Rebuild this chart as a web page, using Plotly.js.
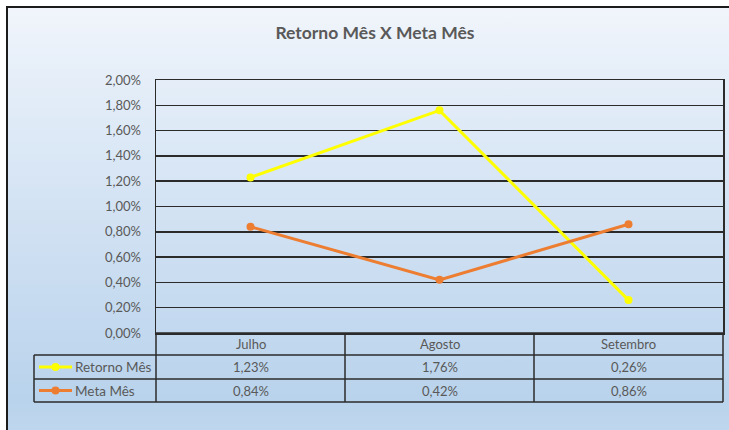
<!DOCTYPE html>
<html>
<head>
<meta charset="utf-8">
<script src="https://cdn.plot.ly/plotly-3.0.1.min.js"></script>
<style>
  html, body { margin: 0; padding: 0; background: #ffffff; }
  #wrap { position: relative; width: 729px; height: 430px; overflow: hidden; }
  #bg { position: absolute; left: 6px; top: 6px; width: 780px; height: 460px;
        border-left: 2px solid #1c1c1c; border-top: 2px solid #1c1c1c;
        background: linear-gradient(to bottom, #f1f5fb 0%, #e3edf8 18%, #cfe0f2 50%, #b9d3ec 85%, #c6dbf0 100%); }
  #chart { position: absolute; left: 0; top: 0; width: 729px; height: 430px; }
</style>
</head>
<body>
<div id="wrap"><div id="bg"></div><div id="chart"></div></div>
<script>
// ---- data ----
const categories = ['Julho', 'Agosto', 'Setembro'];
const seriesNames = ['Retorno Mês', 'Meta Mês'];
const retornoMes = [1.23, 1.76, 0.26];
const metaMes = [0.84, 0.42, 0.86];
const yTicks = [0, 0.2, 0.4, 0.6, 0.8, 1.0, 1.2, 1.4, 1.6, 1.8, 2.0];

// ---- layout helpers ----
const W = 729, H = 430;
const px = x => x / W;
const py = y => 1 - y / H;
const colors = ['#ffff00', '#ed7d31'];
const txt = '#595959';
const lineC = '#2b2b2b';
const fontFam = 'Lato, "Open Sans", sans-serif';
const fmt = v => v.toFixed(2).replace('.', ',') + '%';

const plotL = 156, plotR = 723, plotT = 80, plotB = 333;
const rowLines = [333, 355, 379, 402];
const legendLeft = 34;

const seriesData = [retornoMes, metaMes];

const traces = seriesData.map((vals, i) => ({
  type: 'scatter', mode: 'lines+markers',
  x: categories.map((c, k) => k), y: vals, name: seriesNames[i],
  line: { color: colors[i], width: 3 },
  marker: { color: colors[i], size: 8 },
  hoverinfo: 'skip'
}));

const shapes = [];
shapes.push({ type: 'line', xref: 'paper', yref: 'paper', x0: px(plotL), x1: px(plotR), y0: py(rowLines[0]), y1: py(rowLines[0]), line: { color: lineC, width: 1.5 } });
for (let r = 1; r < rowLines.length; r++) {
  shapes.push({ type: 'line', xref: 'paper', yref: 'paper', x0: px(legendLeft), x1: px(plotR), y0: py(rowLines[r]), y1: py(rowLines[r]), line: { color: lineC, width: 1.5 } });
}
shapes.push({ type: 'line', xref: 'paper', yref: 'paper', x0: px(legendLeft), x1: px(legendLeft), y0: py(rowLines[1]), y1: py(rowLines[3]), line: { color: lineC, width: 1.5 } });
shapes.push({ type: 'line', xref: 'paper', yref: 'paper', x0: px(plotL), x1: px(plotL), y0: py(plotB), y1: py(rowLines[3]), line: { color: lineC, width: 1.5 } });
shapes.push({ type: 'line', xref: 'paper', yref: 'paper', x0: px(plotR), x1: px(plotR), y0: py(plotB), y1: py(rowLines[3]), line: { color: lineC, width: 1.5 } });
for (let k = 0; k < categories.length - 1; k++) {
  shapes.push({ type: 'line', xref: 'x', yref: 'paper', x0: k + 0.5, x1: k + 0.5, y0: py(rowLines[0]), y1: py(rowLines[3]), line: { color: lineC, width: 1.5 } });
}
const annotations = [];
for (let i = 0; i < seriesNames.length; i++) {
  const yc = (rowLines[i + 1] + rowLines[i + 2]) / 2;
  shapes.push({ type: 'line', xref: 'paper', yref: 'paper', x0: px(39), x1: px(72), y0: py(yc), y1: py(yc), line: { color: colors[i], width: 3 } });
  shapes.push({ type: 'circle', xref: 'paper', yref: 'paper', x0: px(51.5), x1: px(59.5), y0: py(yc + 4), y1: py(yc - 4), fillcolor: colors[i], line: { color: colors[i], width: 0 } });
  annotations.push({ xref: 'paper', yref: 'paper', x: px(73), y: py(yc), xanchor: 'left', yanchor: 'middle', showarrow: false, text: seriesNames[i], font: { family: fontFam, size: 13.5, color: txt } });
  for (let k = 0; k < categories.length; k++) {
    annotations.push({ xref: 'x', yref: 'paper', x: k, y: py(yc), xanchor: 'center', yanchor: 'middle', showarrow: false, text: fmt(seriesData[i][k]), font: { family: fontFam, size: 13, color: txt } });
  }
}
categories.forEach((c, k) => {
  annotations.push({ xref: 'x', yref: 'paper', x: k, y: py((rowLines[0] + rowLines[1]) / 2), xanchor: 'center', yanchor: 'middle', showarrow: false, text: c, font: { family: fontFam, size: 13, color: txt } });
});

const layout = {
  width: W, height: H,
  margin: { l: 0, r: 0, t: 0, b: 0 },
  paper_bgcolor: 'rgba(0,0,0,0)', plot_bgcolor: 'rgba(0,0,0,0)',
  showlegend: false,
  title: { text: '<b>Retorno Mês X Meta Mês</b>', x: px(375), xanchor: 'center', y: py(33), yanchor: 'middle', xref: 'paper', yref: 'paper',
           font: { family: fontFam, size: 17.5, color: txt } },
  xaxis: { domain: [px(plotL), px(plotR)], range: [-0.5, categories.length - 0.5], showgrid: false, zeroline: false,
           showticklabels: false, ticks: '', showline: true, mirror: true, linecolor: lineC, linewidth: 1.5, fixedrange: true },
  yaxis: { domain: [py(plotB), py(plotT)], range: [0, 2], tickmode: 'array', tickvals: yTicks, ticktext: yTicks.map(fmt),
           showgrid: true, gridcolor: lineC, gridwidth: 1.5, zeroline: false,
           showline: true, mirror: true, linecolor: lineC, linewidth: 1.5,
           ticks: 'outside', ticklen: 11, tickcolor: 'rgba(0,0,0,0)',
           tickfont: { family: fontFam, size: 13, color: txt }, fixedrange: true },
  shapes: shapes,
  annotations: annotations
};

Plotly.newPlot('chart', traces, layout, { staticPlot: true, displayModeBar: false });
</script>
</body>
</html>
